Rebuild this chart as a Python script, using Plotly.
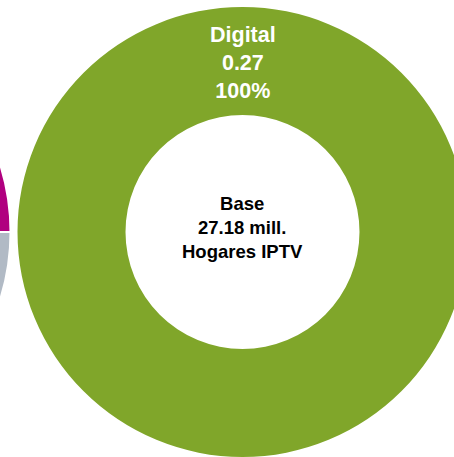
import plotly.graph_objects as go

# Data
left_labels = ["Segmento A", "Segmento B"]
left_values = [0.25, 0.75]
left_colors = ["#B0007F", "#B1BAC5"]

main_labels = ["Digital"]
main_values = [0.27]
main_colors = ["#80A62A"]

center_text = "Base<br>27.18 mill.<br>Hogares IPTV"

FONT = "Liberation Sans, Arial, sans-serif"

fig = go.Figure()

fig.add_trace(go.Pie(
    labels=left_labels, values=left_values,
    hole=0.52, sort=False, direction="clockwise", rotation=0,
    marker=dict(colors=left_colors, line=dict(color="white", width=2)),
    textinfo="none", hoverinfo="label+value+percent",
    domain=dict(x=[0, 0.5], y=[0, 1]),
    showlegend=False,
))

fig.add_trace(go.Pie(
    labels=main_labels, values=main_values,
    hole=0.52, sort=False, direction="clockwise", rotation=180,
    marker=dict(colors=main_colors, line=dict(color="white", width=0)),
    textinfo="none", hoverinfo="label+value+percent",
    domain=dict(x=[0.5, 1], y=[0, 1]),
    showlegend=False,
))

total = sum(main_values)
slice_text = "<br>".join(
    f"<b>{lab}<br>{val:.2f}<br>{val / total:.0%}</b>"
    for lab, val in zip(main_labels, main_values)
)

fig.update_layout(
    width=914, height=457,
    margin=dict(l=0, r=0, t=7, b=0),
    paper_bgcolor="white", plot_bgcolor="white",
    showlegend=False,
    annotations=[
        dict(
            text="<b>" + center_text + "</b>",
            x=0.75, y=(457 - 227) / 450, xref="paper", yref="paper",
            xanchor="center", yanchor="middle", showarrow=False,
            font=dict(family=FONT, size=18.5, color="black"),
        ),
        dict(
            text=slice_text,
            x=0.75, y=(457 - 63) / 450, xref="paper", yref="paper",
            xanchor="center", yanchor="middle", showarrow=False,
            font=dict(family=FONT, size=21.5, color="white"),
        ),
    ],
)

post = (
    "document.body.style.margin='0';"
    "document.body.style.overflow='hidden';"
    "var d=document.getElementById('{plot_id}');"
    "d.style.marginLeft='-443.5px';"
)

fig.write_html("out.html", post_script=post, config={"displayModeBar": False})
